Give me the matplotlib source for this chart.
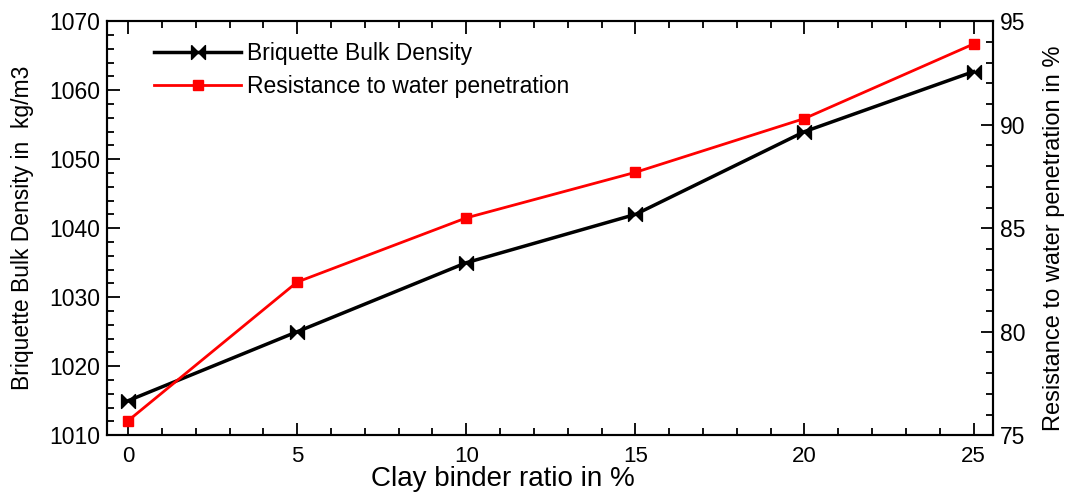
# Briquette bulk density and water resistance vs clay binder ratio

import matplotlib
matplotlib.use('Agg')
import matplotlib.pyplot as plt
from matplotlib.ticker import MultipleLocator

plt.rcParams['font.family'] = ['Liberation Sans', 'DejaVu Sans']

clay_ratio = [0, 5, 10, 15, 20, 25]
bulk_density = [1015, 1025, 1035, 1042, 1054, 1062.7]
water_resistance = [75.7, 82.4, 85.5, 87.7, 90.3, 93.9]

# bow-tie marker used for the density series
bowtie = [(-1, 1), (-1, -1), (0, 0), (1, -1), (1, 1), (0, 0), (-1, 1)]

fig = plt.figure(figsize=(10.71, 4.94), dpi=100)
ax = fig.add_axes([0.1, 0.119, 0.827, 0.838])
ax2 = ax.twinx()

l1, = ax.plot(clay_ratio, bulk_density, color='black', lw=2.5,
              marker=bowtie, markersize=10, label='Briquette Bulk Density')
l2, = ax2.plot(clay_ratio, water_resistance, color='red', lw=2,
               marker='s', markersize=7.5, label='Resistance to water penetration')

ax.set_xlim(-0.62, 25.57)
ax.set_ylim(1010, 1070)
ax2.set_ylim(75, 95)

ax.xaxis.set_major_locator(MultipleLocator(5))
ax.xaxis.set_minor_locator(MultipleLocator(1))
ax.yaxis.set_major_locator(MultipleLocator(10))
ax.yaxis.set_minor_locator(MultipleLocator(2))
ax2.yaxis.set_major_locator(MultipleLocator(5))
ax2.yaxis.set_minor_locator(MultipleLocator(1))

ax.tick_params(axis='x', which='both', direction='in', top=True, labelsize=16, pad=8)
ax.tick_params(axis='y', which='both', direction='in', labelsize=16.5, pad=5)
ax.tick_params(which='major', length=9, width=1.3)
ax.tick_params(which='minor', length=5, width=1.3)
ax2.tick_params(axis='y', which='both', direction='in', labelsize=16.5, pad=5)
ax2.tick_params(which='major', length=9, width=1.3)
ax2.tick_params(which='minor', length=5, width=1.3)

for a in (ax, ax2):
    for s in a.spines.values():
        s.set_linewidth(1.5)

ax.set_xlabel('Clay binder ratio in %', fontsize=20)
ax.xaxis.set_label_coords(0.447, -0.075)
ax.set_ylabel('Briquette Bulk Density in  kg/m3', fontsize=16.5)
ax.yaxis.set_label_coords(-0.082, 0.5)
ax2.set_ylabel('Resistance to water penetration in %', fontsize=17)
ax2.yaxis.set_label_coords(1.057, 0.475)

ax.legend(handles=[l1, l2], loc='upper left', bbox_to_anchor=(0.03, 1.0),
          frameon=False, fontsize=16.5, handlelength=3.8, handletextpad=0.25,
          numpoints=1, labelspacing=0.45)

fig.savefig('out.png', dpi=100)
